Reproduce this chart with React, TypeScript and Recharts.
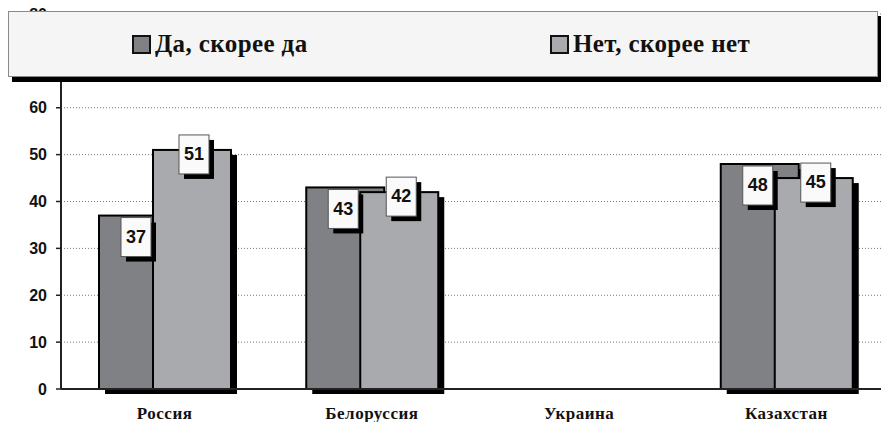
import React from 'react';
import {
  BarChart,
  Bar,
  XAxis,
  YAxis,
  CartesianGrid,
  Legend,
  LabelList,
} from 'recharts';

const countries = ['Россия', 'Белоруссия', 'Украина', 'Казахстан'];
const yesValues = [37, 43, null, 48];
const noValues = [51, 42, null, 45];
const yTicks = [0, 10, 20, 30, 40, 50, 60, 70, 80];

const DARK = '#808185';
const LIGHT = '#a9aaae';

const data = countries.map((name, i) => ({
  name,
  yes: yesValues[i],
  no: noValues[i],
}));

const ShadowBar = (props: any) => {
  const { x, y, width, height, fill } = props;
  if (!height || height <= 0) return null;
  return (
    <g>
      <rect x={x + 6} y={y + 5} width={width} height={height} fill="#000" />
      <rect x={x} y={y} width={width} height={height} fill={fill} stroke="#000" strokeWidth={2} />
    </g>
  );
};

// label boxes: white card with black drop shadow
const makeLabel = (dx: number, dy: number) => (props: any) => {
  const { x, y, width, value } = props;
  if (value == null) return null;
  const w = 30;
  const h = 39;
  const bx = x + width / 2 - w / 2 + dx;
  const by = y + dy;
  return (
    <g>
      <rect x={bx + 5} y={by + 5} width={w} height={h} fill="#000" />
      <rect x={bx} y={by} width={w} height={h} fill="#fafafa" stroke="#555" strokeWidth={1} />
      <text
        x={bx + w / 2}
        y={by + h / 2 + 1}
        textAnchor="middle"
        dominantBaseline="middle"
        fontFamily="'Liberation Sans', Arial, sans-serif"
        fontWeight="bold"
        fontSize={18}
        fill="#111"
      >
        {value}
      </text>
    </g>
  );
};

const renderLegend = (props: any) => {
  const { payload } = props;
  return (
    <div
      style={{
        position: 'relative',
        width: 870,
        height: 66,
        boxSizing: 'border-box',
        background: '#f5f5f5',
        border: '1px solid #8a8a8a',
        boxShadow: '4px 5px 0 #000',
      }}
    >
      {(payload || []).map((entry: any, i: number) => (
        <div
          key={entry.value}
          style={{
            position: 'absolute',
            left: 123 + i * 418,
            top: 0,
            height: 64,
            display: 'flex',
            alignItems: 'center',
          }}
        >
          <span
            style={{
              display: 'inline-block',
              width: 15,
              height: 15,
              background: entry.color,
              border: '2px solid #111',
              marginRight: 4,
            }}
          />
          <span
            style={{
              fontFamily: "'Liberation Serif', 'Times New Roman', serif",
              fontWeight: 'bold',
              fontSize: 25,
              letterSpacing: 0.4,
              color: '#111',
            }}
          >
            {entry.value}
          </span>
        </div>
      ))}
    </div>
  );
};

export default function App() {
  return (
    <div style={{ position: 'absolute', left: 0, top: 0, width: 881, height: 422, overflow: 'hidden', background: '#fff' }}>
      <BarChart
        width={890}
        height={422}
        data={data}
        margin={{ top: 14, right: 0, left: 0, bottom: 3 }}
        barSize={78}
        barGap={-24}
      >
        <CartesianGrid vertical={false} stroke="#777" strokeDasharray="1 2" />
        <XAxis
          dataKey="name"
          height={30}
          axisLine={{ stroke: '#222', strokeWidth: 2 }}
          tickLine={false}
          tickSize={0}
          tickMargin={18}
          tick={{
            fill: '#111',
            fontSize: 17,
            fontWeight: 'bold',
            fontFamily: "'Liberation Serif', 'Times New Roman', serif",
            letterSpacing: 0.5,
          }}
        />
        <YAxis
          width={61}
          domain={[0, 80]}
          ticks={yTicks}
          interval={0}
          axisLine={{ stroke: '#222', strokeWidth: 2 }}
          tickLine={{ stroke: '#222', strokeWidth: 1.5 }}
          tickSize={5}
          tickMargin={9}
          tick={{
            fill: '#111',
            fontSize: 16,
            fontWeight: 'bold',
            fontFamily: "'Liberation Sans', Arial, sans-serif",
          }}
        />
        <Legend
          verticalAlign="middle"
          align="center"
          layout="horizontal"
          wrapperStyle={{ top: 11, left: 8, width: 870 }}
          content={renderLegend}
        />
        <Bar dataKey="yes" name="Да, скорее да" fill={DARK} shape={ShadowBar} isAnimationActive={false}>
          <LabelList dataKey="yes" content={makeLabel(-2, 2)} />
        </Bar>
        <Bar dataKey="no" name="Нет, скорее нет" fill={LIGHT} shape={ShadowBar} isAnimationActive={false}>
          <LabelList dataKey="no" content={makeLabel(2, -15)} />
        </Bar>
      </BarChart>
    </div>
  );
}
